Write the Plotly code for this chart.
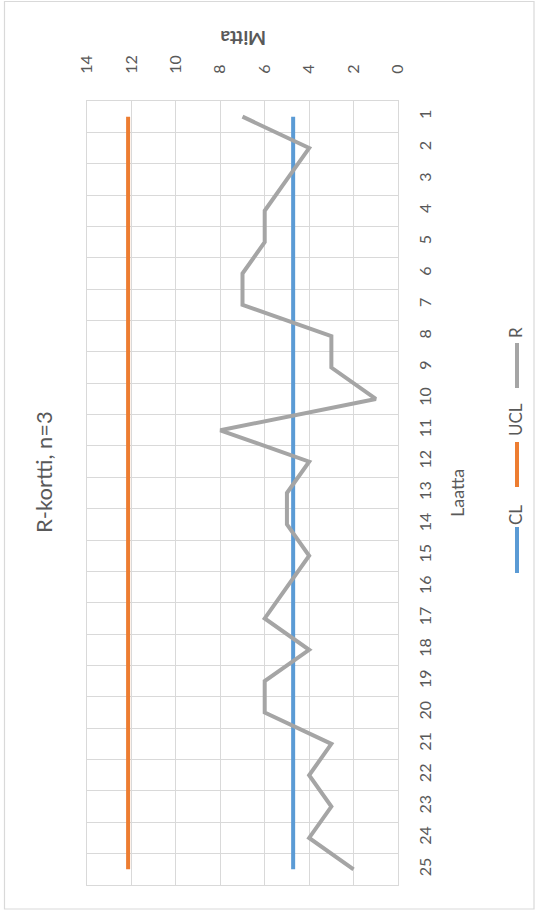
import plotly.graph_objects as go

# ---- data ----
laatta = list(range(1, 26))
r_values = [7, 4, 5, 6, 6, 7, 7, 3, 3, 1, 8, 4, 5, 5, 4, 5, 6, 4, 6, 6, 3, 4, 3, 4, 2]
cl_values = [4.72] * 25
ucl_values = [12.15] * 25
value_ticks = [0, 2, 4, 6, 8, 10, 12, 14]

series_names = ["CL", "UCL", "R"]
series_colors = {"CL": "#5B9BD5", "UCL": "#ED7D31", "R": "#A5A5A5"}

W, H = 541, 915
L, R, T, B = 87, 143, 101, 30
PW, PH = W - L - R, H - T - B

def px(x):
    return (x - L) / PW

def py(y):
    return (H - B - y) / PH

FONT = "Lato"
GRAY = "#595959"
GRID = "#D9D9D9"

fig = go.Figure()
data = {"CL": cl_values, "UCL": ucl_values, "R": r_values}
for name in series_names:
    fig.add_trace(go.Scatter(
        x=data[name], y=laatta, mode="lines", name=name,
        line=dict(color=series_colors[name], width=4),
        showlegend=False, hoverinfo="skip",
    ))

fig.update_layout(
    width=W, height=H,
    margin=dict(l=L, r=R, t=T, b=B, autoexpand=False),
    paper_bgcolor="white", plot_bgcolor="white",
    font=dict(family=FONT, color=GRAY),
    xaxis=dict(
        range=[14, 0], side="top", tickvals=value_ticks,
        ticktext=[str(v) for v in value_ticks],
        tickangle=-90, tickfont=dict(size=16, color=GRAY),
        showgrid=True, gridcolor=GRID, gridwidth=1,
        zeroline=False, showline=True, linecolor=GRID, mirror=True,
        ticks="", ticklabelstandoff=23,
    ),
    yaxis=dict(
        range=[25.5, 0.5], side="right", tickvals=laatta,
        ticktext=[str(v) for v in laatta],
        tickangle=-90, tickfont=dict(size=16, color=GRAY),
        showgrid=False, zeroline=False,
        showline=True, linecolor=GRID, mirror=True, ticks="",
        ticklabelstandoff=13,
        minor=dict(tickmode="linear", tick0=0.5, dtick=1, showgrid=True,
                   gridcolor=GRID, gridwidth=1, ticks=""),
    ),
)

shapes = [
    # outer chart border
    dict(type="rect", xref="paper", yref="paper",
         x0=px(4.5), x1=px(534), y0=py(909), y1=py(1.5),
         line=dict(color=GRID, width=1.2), fillcolor="rgba(0,0,0,0)", layer="below"),
]
annotations = [
    dict(text="R-kortti, n=3", x=px(43), y=py(472), xref="paper", yref="paper",
         showarrow=False, textangle=-90, font=dict(size=22, color=GRAY, family=FONT),
         xanchor="center", yanchor="middle"),
    dict(text="<b>Mitta</b>", x=px(243), y=py(39), xref="paper", yref="paper",
         showarrow=False, textangle=180, font=dict(size=19, color=GRAY, family=FONT),
         xanchor="center", yanchor="middle"),
    dict(text="Laatta", x=px(457), y=py(493), xref="paper", yref="paper",
         showarrow=False, textangle=-90, font=dict(size=18, color=GRAY, family=FONT),
         xanchor="center", yanchor="middle"),
]

# manual rotated legend
legend_items = [("R", 333, 343, 388), ("UCL", 420, 442, 487), ("CL", 515, 527, 573)]
for name, ty, y0, y1 in legend_items:
    shapes.append(dict(type="line", xref="paper", yref="paper",
                       x0=px(517), x1=px(517), y0=py(y0), y1=py(y1),
                       line=dict(color=series_colors[name], width=4)))
    annotations.append(dict(text=name, x=px(515), y=py(ty), xref="paper", yref="paper",
                            showarrow=False, textangle=-90,
                            font=dict(size=17, color=GRAY, family=FONT),
                            xanchor="center", yanchor="middle"))

fig.update_layout(shapes=shapes, annotations=annotations)
fig.write_html("out.html", config={"displayModeBar": False},
               post_script="document.body.style.margin='0';")
